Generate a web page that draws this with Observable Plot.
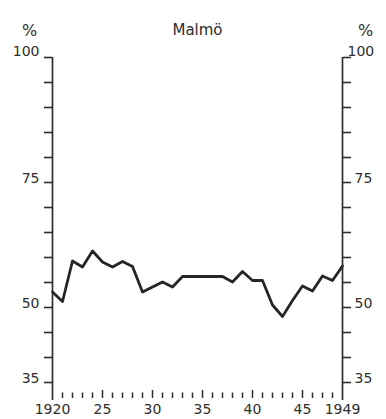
<!DOCTYPE html>
<html>
<head>
<meta charset="utf-8">
<script src="https://cdn.jsdelivr.net/npm/d3@7"></script>
<script src="https://cdn.jsdelivr.net/npm/@observablehq/plot@0.6"></script>
<style>
  html, body { margin: 0; padding: 0; background: #ffffff; }
</style>
</head>
<body>
<div id="chart"></div>
<script>
const title = "Malmö";
const unit = "%";
const years = [1920,1921,1922,1923,1924,1925,1926,1927,1928,1929,1930,1931,1932,1933,1934,1935,1936,1937,1938,1939,1940,1941,1942,1943,1944,1945,1946,1947,1948,1949];
const values = [53.1,51.2,59.3,58.1,61.3,59.1,58.1,59.2,58.2,53.1,54.1,55.1,54.1,56.2,56.2,56.2,56.2,56.2,55.1,57.2,55.4,55.4,50.5,48.2,51.4,54.3,53.3,56.3,55.4,58.3];
const yTicks = [35,40,45,50,55,60,65,70,75,80,85,90,95,100];
const yLabels = [100,75,50,35];
const xLabelYears = [1920,1925,1930,1935,1940,1945,1949];
const xLabelTexts = ["1920","25","30","35","40","45","1949"];

const yMin = 31.8, yMax = 100;
const data = years.map((y, i) => ({year: y, value: values[i]}));
const xLabels = xLabelYears.map((y, i) => ({year: y, label: xLabelTexts[i], y: yMin}));
const innerYears = years.filter(y => y !== years[0] && y !== years[years.length - 1]);
const topLabel = yLabels.filter(d => d === yMax);
const otherLabels = yLabels.filter(d => d !== yMax);
const ink = "#2e2e2e";
const xLeft = years[0], xRight = years[years.length - 1];

const chart = Plot.plot({
  width: 386,
  height: 419,
  marginLeft: 52,
  marginRight: 44,
  marginTop: 57,
  marginBottom: 21,
  style: {fontFamily: "DejaVu Sans", fontSize: "14px", background: "#ffffff", color: ink},
  x: {domain: [xLeft, xRight], axis: null},
  y: {domain: [yMin, yMax], axis: null},
  marks: [
    Plot.ruleX([xLeft, xRight], {x: d => d, y1: yMin - 0.4, y2: yMax, stroke: ink, strokeWidth: 1.7}),
    Plot.axisY(yTicks, {anchor: "left", tickSize: 8, tickFormat: () => "", stroke: ink, strokeWidth: 1.6, label: null}),
    Plot.axisY(yTicks, {anchor: "right", tickSize: 8, tickFormat: () => "", stroke: ink, strokeWidth: 1.6, label: null}),
    Plot.text(topLabel, {x: () => xLeft, y: d => d, text: d => String(d), textAnchor: "end", dx: -13, dy: -6, fill: ink}),
    Plot.text(otherLabels, {x: () => xLeft, y: d => d, text: d => String(d), textAnchor: "end", dx: -13, dy: -4, fill: ink}),
    Plot.text(topLabel, {x: () => xRight, y: d => d, text: d => String(d), textAnchor: "start", dx: 5, dy: -6, fill: ink}),
    Plot.text(otherLabels, {x: () => xRight, y: d => d, text: d => String(d), textAnchor: "start", dx: 12, dy: -4, fill: ink}),
    Plot.ruleX(innerYears, {x: d => d, y1: yMin, y2: d => d % 5 === 0 ? yMin + 1.6 : yMin + 1.1, stroke: ink, strokeWidth: 1.5}),
    Plot.text(xLabels, {x: "year", y: "y", text: "label", dy: 11, fill: ink}),
    Plot.text([title], {frameAnchor: "top", dy: -33, fontSize: 15, fill: ink}),
    Plot.text([unit], {frameAnchor: "top-left", dx: -23, dy: -33, textAnchor: "middle", fontSize: 16, fill: ink}),
    Plot.text([unit], {frameAnchor: "top-right", dx: 23, dy: -33, textAnchor: "middle", fontSize: 16, fill: ink}),
    Plot.line(data, {x: "year", y: "value", stroke: "#262626", strokeWidth: 2.8, strokeLinejoin: "round"})
  ]
});
document.getElementById("chart").appendChild(chart);
</script>
</body>
</html>
